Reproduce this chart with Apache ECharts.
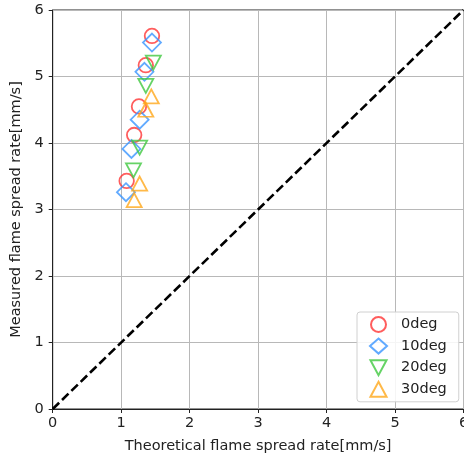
<!DOCTYPE html>
<html>
<head>
<meta charset="utf-8">
<script src="https://cdn.jsdelivr.net/npm/echarts@6/dist/echarts.min.js"></script>
<style>
  html, body { margin: 0; padding: 0; background: #fff; }
  #chart { width: 464px; height: 459px; }
</style>
</head>
<body>
<div id="chart"></div>
<script>
// Theoretical vs measured flame spread rate, per inclination angle
const seriesNames = ['0deg', '10deg', '20deg', '30deg'];

const theory0 = [1.45, 1.36, 1.26, 1.19, 1.08];
const measured0 = [5.61, 5.17, 4.55, 4.12, 3.43];

const theory10 = [1.45, 1.34, 1.27, 1.15, 1.07];
const measured10 = [5.51, 5.07, 4.35, 3.91, 3.26];

const theory20 = [1.47, 1.36, 1.27, 1.18];
const measured20 = [5.21, 4.86, 3.93, 3.59];

const theory30 = [1.44, 1.36, 1.27, 1.19];
const measured30 = [4.70, 4.50, 3.39, 3.14];

const axisTicks = [0, 1, 2, 3, 4, 5, 6];
const identityLine = [[0, 0], [6, 6]];

const colors = ['#ff3535', '#3a95ff', '#40c840', '#ffa81a'];

const pairs = (xs, ys) => xs.map((x, i) => [x, ys[i]]);

const font = 'DejaVu Sans';
const triangleDown = 'path://M0,0 L15,0 L7.5,14 Z';
const triangleUp = 'path://M7.5,0 L15,14 L0,14 Z';

function scatter(name, data, color, symbol, size, rotate) {
  return {
    name: name,
    type: 'scatter',
    data: data,
    symbol: symbol,
    symbolSize: size,
    symbolRotate: rotate || 0,
    itemStyle: { color: 'rgba(255,255,255,0)', borderColor: color, borderWidth: 1.8 },
    emphasis: { disabled: true },
    z: 3
  };
}

const axisCommon = {
  type: 'value',
  min: axisTicks[0],
  max: axisTicks[axisTicks.length - 1],
  interval: 1,
  nameLocation: 'middle',
  nameTextStyle: { fontFamily: font, fontSize: 14.5, color: '#222' },
  axisLine: { show: true, onZero: false, lineStyle: { color: '#222', width: 1 } },
  axisTick: { show: true, inside: false, length: 4, lineStyle: { color: '#222', width: 1 } },
  axisLabel: { fontFamily: font, fontSize: 14.5, color: '#222' },
  splitLine: { show: true, lineStyle: { color: '#b8b8b8', width: 1 } }
};

const chart = echarts.init(document.getElementById('chart'), null, { renderer: 'canvas' });

chart.setOption({
  animation: false,
  backgroundColor: '#fff',
  grid: {
    left: 52.7, right: 0.5, top: 10, bottom: 50,
    containLabel: false,
    outerBoundsMode: 'none',
    show: true, borderColor: '#222', borderWidth: 1, backgroundColor: 'transparent'
  },
  xAxis: Object.assign({}, axisCommon, {
    name: 'Theoretical flame spread rate[mm/s]',
    nameGap: 30,
    axisLabel: Object.assign({}, axisCommon.axisLabel, { margin: 7, hideOverlap: false })
  }),
  yAxis: Object.assign({}, axisCommon, {
    name: 'Measured flame spread rate[mm/s]',
    nameGap: 18,
    axisLabel: Object.assign({}, axisCommon.axisLabel, { margin: 9 })
  }),
  legend: {
    data: [
      { name: seriesNames[0], icon: 'circle' },
      { name: seriesNames[1], icon: 'diamond' },
      { name: seriesNames[2], icon: triangleDown },
      { name: seriesNames[3], icon: triangleUp }
    ],
    orient: 'vertical',
    left: 357,
    top: 312,
    itemWidth: 17,
    itemHeight: 15,
    itemGap: 4.6,
    padding: [4, 12, 4, 12],
    backgroundColor: 'rgba(255,255,255,0.85)',
    borderColor: '#d0d0d0',
    borderWidth: 1,
    borderRadius: 3,
    selectedMode: false,
    textStyle: { fontFamily: font, fontSize: 14.5, color: '#222', padding: [0, 0, 0, 9] }
  },
  series: [
    {
      name: 'identity',
      type: 'line',
      data: identityLine,
      symbol: 'none',
      silent: true,
      lineStyle: { color: '#000', width: 2.6, type: [9, 4] },
      z: 2
    },
    scatter(seriesNames[0], pairs(theory0, measured0), colors[0], 'circle', 14.5),
    scatter(seriesNames[1], pairs(theory10, measured10), colors[1], 'diamond', 18),
    scatter(seriesNames[2], pairs(theory20, measured20), colors[2], 'triangle', [15, 14], 180),
    scatter(seriesNames[3], pairs(theory30, measured30), colors[3], 'triangle', [15, 14])
  ]
});
</script>
</body>
</html>
